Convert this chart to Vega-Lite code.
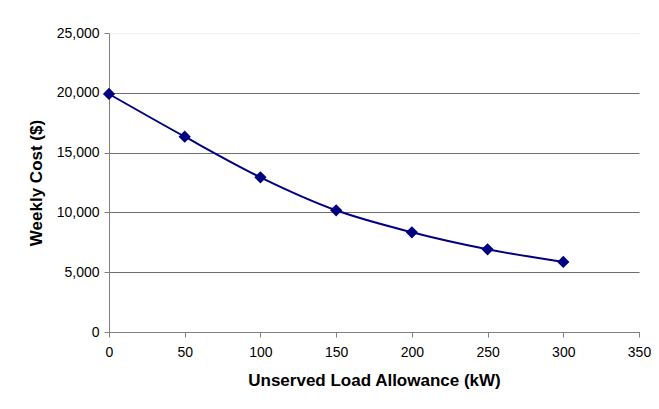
{
  "$schema": "https://vega.github.io/schema/vega-lite/v6.json",
  "width": 530,
  "height": 299,
  "autosize": {"type": "none"},
  "padding": {"left": 109, "top": 33, "right": 20, "bottom": 77},
  "background": "white",
  "config": {
    "view": {"stroke": null},
    "font": "Liberation Sans",
    "axis": {
      "labelFont": "Liberation Sans",
      "titleFont": "Liberation Sans",
      "labelFontSize": 14,
      "labelColor": "black",
      "titleFontSize": 17,
      "titleFontWeight": "bold",
      "titleColor": "black",
      "domainColor": "#808080",
      "tickColor": "#808080",
      "tickSize": 5,
      "domainWidth": 1,
      "tickWidth": 1,
      "labelFlush": false,
      "labelOverlap": false
    }
  },
  "data": {
    "values": [
      {"allowance": 0, "cost": 19900},
      {"allowance": 50, "cost": 16330},
      {"allowance": 100, "cost": 12935},
      {"allowance": 150, "cost": 10175},
      {"allowance": 200, "cost": 8340},
      {"allowance": 250, "cost": 6915},
      {"allowance": 300, "cost": 5855}
    ]
  },
  "encoding": {
    "x": {
      "field": "allowance",
      "type": "quantitative",
      "scale": {"domain": [0, 350], "nice": false, "zero": true},
      "axis": {
        "title": "Unserved Load Allowance (kW)",
        "values": [0, 50, 100, 150, 200, 250, 300, 350],
        "grid": false,
        "labelPadding": 8,
        "titlePadding": 13
      }
    },
    "y": {
      "field": "cost",
      "type": "quantitative",
      "scale": {"domain": [0, 25000], "nice": false},
      "axis": {
        "title": "Weekly Cost ($)",
        "values": [0, 5000, 10000, 15000, 20000, 25000],
        "format": ",d",
        "grid": true,
        "gridColor": {"condition": {"test": "datum.value == 25000", "value": "#eeeeee"}, "value": "#6e6e6e"},
        "gridWidth": 1,
        "labelPadding": 5,
        "titlePadding": 11
      }
    }
  },
  "layer": [
    {
      "mark": {"type": "line", "color": "#000080", "strokeWidth": 2, "interpolate": "monotone"}
    },
    {
      "mark": {"type": "point", "shape": "diamond", "filled": true, "color": "#000080", "size": 150, "opacity": 1}
    }
  ]
}
